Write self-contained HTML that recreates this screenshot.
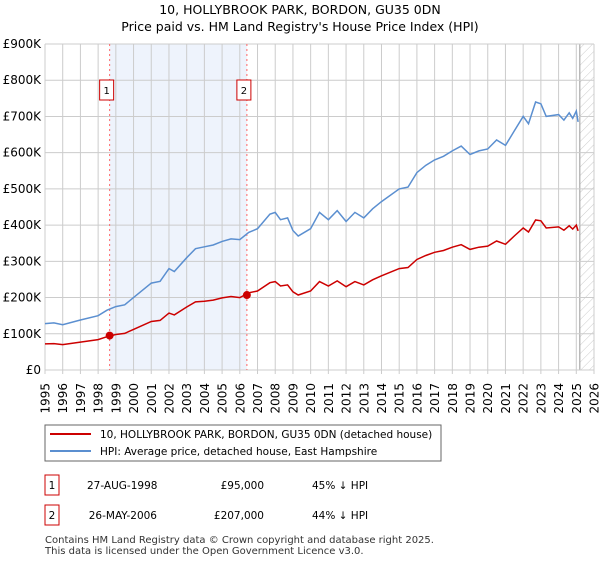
<!DOCTYPE html>
<html><head><meta charset="utf-8"><style>
body{margin:0;background:#fff;font-family:"Liberation Sans","DejaVu Sans",sans-serif;}
svg text{font-family:"DejaVu Sans","Liberation Sans",sans-serif;}
</style></head><body>
<svg id="chart" width="600" height="560" xmlns="http://www.w3.org/2000/svg">
<defs><pattern id="hatch" width="6" height="6" patternUnits="userSpaceOnUse" patternTransform="rotate(45)"><line x1="0" y1="0" x2="0" y2="6" stroke="#ccc" stroke-width="1"/></pattern></defs>
<text x="300" y="14" text-anchor="middle" font-size="12.5">10, HOLLYBROOK PARK, BORDON, GU35 0DN</text>
<text x="300" y="31" text-anchor="middle" font-size="12.5">Price paid vs. HM Land Registry's House Price Index (HPI)</text>
<g id="plot"></g>
<g>
<rect x="45" y="425" width="396" height="36" fill="#fff" stroke="#666"/>
<line x1="50" y1="434" x2="91" y2="434" stroke="#cc0000" stroke-width="2"/>
<text x="100" y="438" font-size="10.5">10, HOLLYBROOK PARK, BORDON, GU35 0DN (detached house)</text>
<line x1="50" y1="451" x2="91" y2="451" stroke="#5b8fd0" stroke-width="2"/>
<text x="100" y="455" font-size="10.5">HPI: Average price, detached house, East Hampshire</text>
</g>
<g font-size="10.5">
<rect x="45" y="475" width="14" height="20" fill="#fff" stroke="#cc0000"/><text x="52" y="489" text-anchor="middle">1</text>
<text x="87" y="489">27-AUG-1998</text><text x="264" y="489" text-anchor="end">£95,000</text><text x="312" y="489">45% ↓ HPI</text>
<rect x="45" y="505" width="14" height="20" fill="#fff" stroke="#cc0000"/><text x="52" y="519" text-anchor="middle">2</text>
<text x="157" y="519" text-anchor="end">26-MAY-2006</text><text x="264" y="519" text-anchor="end">£207,000</text><text x="312" y="519">44% ↓ HPI</text>
</g>
<text x="45" y="543" font-size="10" fill="#333">Contains HM Land Registry data © Crown copyright and database right 2025.</text>
<text x="45" y="554" font-size="10" fill="#333">This data is licensed under the Open Government Licence v3.0.</text>
</svg>
<script>
const hpiYears=[1995,1995.5,1996,1997,1998,1998.5,1999,1999.5,2000,2001,2001.5,2002,2002.3,2003,2003.5,2004,2004.5,2005,2005.5,2006,2006.5,2007,2007.7,2008,2008.3,2008.7,2009,2009.3,2010,2010.5,2011,2011.5,2012,2012.5,2013,2013.5,2014,2015,2015.5,2016,2016.5,2017,2017.5,2018,2018.5,2019,2019.5,2020,2020.5,2021,2021.5,2022,2022.3,2022.7,2023,2023.3,2024,2024.3,2024.6,2024.8,2025,2025.1];
const hpiValues=[128,130,125,138,150,165,175,180,200,240,245,280,272,310,335,340,345,355,362,360,380,390,430,435,415,420,385,370,390,435,415,440,410,435,420,445,465,500,505,545,565,580,590,605,618,595,605,610,635,620,660,700,680,740,735,700,705,690,710,695,715,685];
const priceValues=[72,73,70,77,84,92,98,101,112,134,137,157,152,174,188,190,193,199,203,200,213,218,241,244,232,235,216,207,218,244,232,246,230,244,235,249,260,280,283,305,316,325,330,339,346,333,339,342,356,347,370,392,381,414,412,392,395,386,398,389,400,384];
const saleYears=[1998.65,2006.4];
const saleValues=[95,207];
const saleLabels=["1","2"];
const yTicks=[0,100,200,300,400,500,600,700,800,900];
const yTickLabels=["£0","£100K","£200K","£300K","£400K","£500K","£600K","£700K","£800K","£900K"];
const xTicks=[1995,1996,1997,1998,1999,2000,2001,2002,2003,2004,2005,2006,2007,2008,2009,2010,2011,2012,2013,2014,2015,2016,2017,2018,2019,2020,2021,2022,2023,2024,2025,2026];
const dataEnd=2025.2;

const X0=45,X1=594,Y0=370,Y1=44;
const xs=y=>X0+(y-1995)/(2026-1995)*(X1-X0);
const ys=v=>Y0-v/900*(Y0-Y1);
const NS="http://www.w3.org/2000/svg";
const g=document.getElementById('plot');
function mk(t,a){const e=document.createElementNS(NS,t);for(const k in a)e.setAttribute(k,a[k]);g.appendChild(e);return e;}

let bg=mk('rect',{x:X0,y:Y1,width:X1-X0,height:Y0-Y1,fill:'#fff'});


let sh=mk('rect',{x:xs(saleYears[0]),y:Y1,width:xs(saleYears[1])-xs(saleYears[0]),height:Y0-Y1,fill:'#eef3fc'});


let ht=mk('rect',{x:xs(dataEnd),y:Y1,width:X1-xs(dataEnd),height:Y0-Y1,fill:'url(#hatch)'});


let hl=mk('line',{x1:xs(dataEnd),x2:xs(dataEnd),y1:Y1,y2:Y0,stroke:'#999','stroke-width':1});



yTicks.forEach((v,i)=>{
 let l=mk('line',{x1:X0,x2:X1,y1:ys(v),y2:ys(v),stroke:'#ccc','stroke-width':1});
 
 
 let t=mk('text',{x:X0-4,y:ys(v)+4,'text-anchor':'end','font-size':12});
 t.textContent=yTickLabels[i];
 
 
});
xTicks.forEach(yr=>{
 let l=mk('line',{x1:xs(yr),x2:xs(yr),y1:Y1,y2:Y0+4,stroke:'#ccc','stroke-width':1});
 
 
 const tx=xs(yr)+4.5, ty=Y0+13;
 let t=mk('text',{x:tx,y:ty,'text-anchor':'end','font-size':12,transform:'rotate(-90 '+tx.toFixed(1)+' '+ty+')'});
 t.textContent=yr;
 
 
});
saleYears.forEach((yr,i)=>{
 let l=mk('line',{x1:xs(yr),x2:xs(yr),y1:Y1,y2:Y0,stroke:'#ff6666','stroke-width':1,'stroke-dasharray':'2,3'});
 
 
 let r=mk('rect',{x:xs(yr)-10,y:80,width:14,height:20,fill:'#fff',stroke:'#cc0000'});
 
 
 let t=mk('text',{x:xs(yr)-3,y:94,'text-anchor':'middle','font-size':10});
 t.textContent=saleLabels[i];
 
 
});
function path(vals){return hpiYears.map((y,i)=>(i?'L':'M')+xs(y).toFixed(1)+','+ys(vals[i]).toFixed(1)).join('');}
let hp=mk('path',{d:path(hpiValues),fill:'none',stroke:'#5b8fd0','stroke-width':1.5});


let pp=mk('path',{d:path(priceValues),fill:'none',stroke:'#cc0000','stroke-width':1.5});


saleYears.forEach((yr,i)=>{
 let c=mk('circle',{cx:xs(yr),cy:ys(saleValues[i]),r:4,fill:'#cc0000'});
 
 
});
</script>
</body></html>
